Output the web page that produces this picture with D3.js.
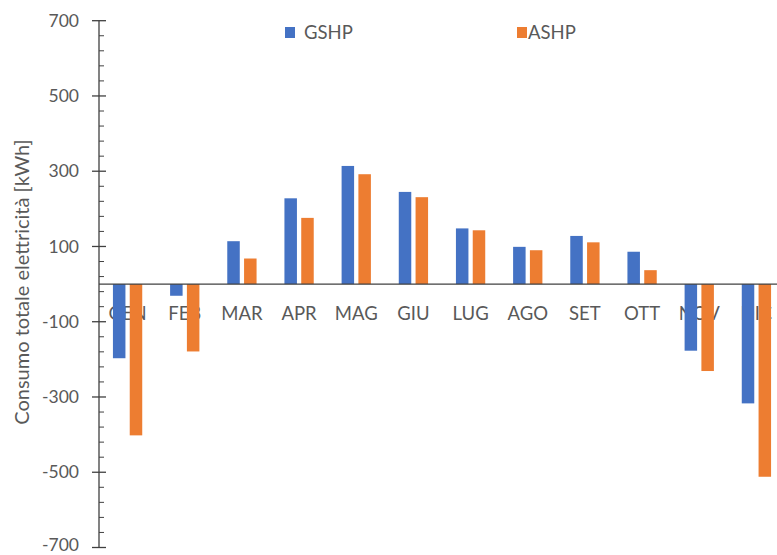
<!DOCTYPE html>
<html>
<head>
<meta charset="utf-8">
<script src="https://cdn.jsdelivr.net/npm/d3@7"></script>
<style>
  body { margin: 0; background: #fff; }
  text { font-family: Lato, "Open Sans", sans-serif; fill: #595959; }
</style>
</head>
<body>
<div id="chart"></div>
<script>
var months = ["GEN", "FEB", "MAR", "APR", "MAG", "GIU", "LUG", "AGO", "SET", "OTT", "NOV", "DIC"];
var gshp = [-197, -31, 114, 228, 314, 245, 148, 99, 128, 86, -177, -317];
var ashp = [-402, -179, 68, 176, 292, 231, 143, 90, 111, 37, -231, -512];
var seriesNames = ["GSHP", "ASHP"];
var seriesColors = ["#4472C4", "#ED7D31"];
var majorTicks = [700, 500, 300, 100, -100, -300, -500, -700];

var svgWidth = 777;
var svgHeight = 555;

var svg = d3.select("#chart")
    .append("svg")
    .attr("width", svgWidth)
    .attr("height", svgHeight);

// scales
var yScale = d3.scaleLinear()
    .domain([-700, 700])
    .range([547.5, 20.7]);

var xScale = d3.scaleBand()
    .domain(months)
    .range([99, 785])
    .padding(0);

var barW = 12.5;
var barGap = 4.3;

var data = months.map(function(m, i) {
    return { month: m, values: [gshp[i], ashp[i]] };
});

// month labels (drawn under the bars)
svg.append("g").selectAll("text")
    .data(months)
    .enter()
    .append("text")
    .attr("x", d => xScale(d) + xScale.bandwidth() / 2)
    .attr("y", yScale(0) + 36)
    .attr("text-anchor", "middle")
    .style("font-size", "18.5px")
    .text(d => d);

// bars
var groups = svg.append("g").selectAll("g")
    .data(data)
    .enter()
    .append("g");

groups.selectAll("rect")
    .data(d => d.values.map((v, k) => ({ month: d.month, v: v, k: k })))
    .enter()
    .append("rect")
    .attr("x", d => xScale(d.month) + xScale.bandwidth() / 2 + (d.k === 0 ? -barGap / 2 - barW : barGap / 2))
    .attr("y", d => yScale(Math.max(0, d.v)))
    .attr("width", barW)
    .attr("height", d => Math.abs(yScale(d.v) - yScale(0)))
    .attr("fill", d => seriesColors[d.k]);

// zero line
svg.append("line")
    .attr("x1", 99)
    .attr("x2", svgWidth)
    .attr("y1", yScale(0))
    .attr("y2", yScale(0))
    .attr("stroke", "#404040")
    .attr("stroke-width", 1.3);

// y axis with major cross ticks and minor inside ticks
var axisG = svg.append("g");
axisG.append("line")
    .attr("x1", 99).attr("x2", 99)
    .attr("y1", yScale(700)).attr("y2", yScale(-700))
    .attr("stroke", "#404040")
    .attr("stroke-width", 1.3);

var minorTicks = d3.range(-700, 701, 40).filter(v => majorTicks.indexOf(v) < 0);
axisG.selectAll(".minor")
    .data(minorTicks)
    .enter()
    .append("line")
    .attr("x1", 99).attr("x2", 104)
    .attr("y1", d => yScale(d)).attr("y2", d => yScale(d))
    .attr("stroke", "#404040");

axisG.selectAll(".major")
    .data(majorTicks)
    .enter()
    .append("line")
    .attr("x1", 92).attr("x2", 106)
    .attr("y1", d => yScale(d)).attr("y2", d => yScale(d))
    .attr("stroke", "#404040")
    .attr("stroke-width", 1.3);

// tick labels; the bottom one is nudged up so it stays inside the frame
axisG.selectAll(".ylabel")
    .data(majorTicks)
    .enter()
    .append("text")
    .attr("x", 79)
    .attr("y", d => d === -700 ? yScale(d) - 3 : yScale(d))
    .attr("dy", "0.35em")
    .attr("text-anchor", "end")
    .style("font-size", "17.5px")
    .text(d => d);

// y title
svg.append("text")
    .attr("transform", "translate(22,282) rotate(-90)")
    .attr("text-anchor", "middle")
    .attr("dy", "0.35em")
    .style("font-size", "20px")
    .text("Consumo totale elettricità [kWh]");

// legend
var legendX = [285, 517];
var legend = svg.append("g").selectAll("g")
    .data(seriesNames)
    .enter()
    .append("g")
    .attr("transform", (d, i) => `translate(${legendX[i]},27)`);
legend.append("rect")
    .attr("width", 10)
    .attr("height", 11)
    .attr("fill", (d, i) => seriesColors[i]);
legend.append("text")
    .attr("x", (d, i) => i === 0 ? 19 : 11)
    .attr("y", 5.5)
    .attr("dy", "0.35em")
    .style("font-size", "18.5px")
    .text(d => d);
</script>
</body>
</html>
